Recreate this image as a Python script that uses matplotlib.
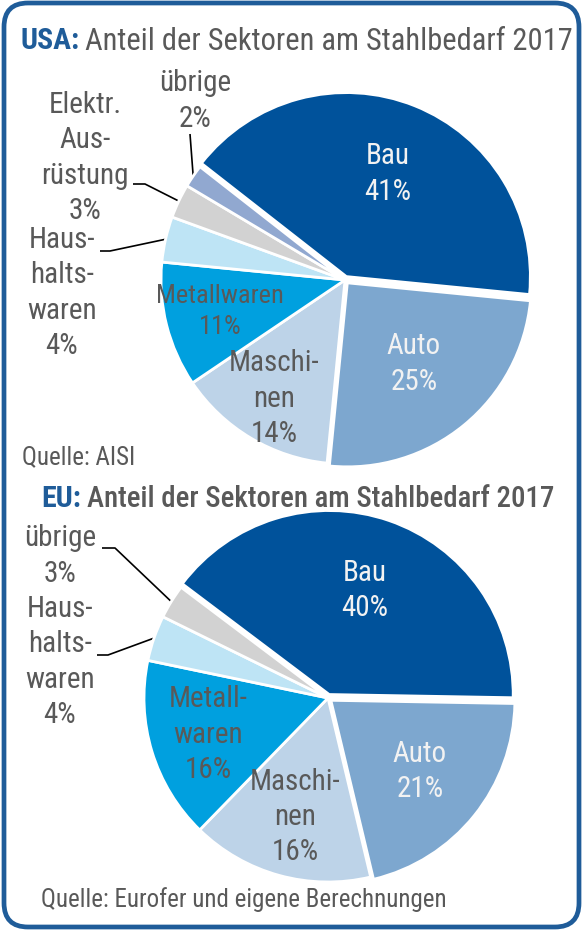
import matplotlib
matplotlib.use('Agg')
import matplotlib.pyplot as plt
from matplotlib.patches import FancyBboxPatch
import numpy as np

# Daten: Anteil der Sektoren am Stahlbedarf 2017
usa_sectors = ['Bau', 'Auto', 'Maschinen', 'Metallwaren', 'Haushaltswaren', 'Elektr. Ausrüstung', 'übrige']
usa_share = [41, 25, 14, 11, 4, 3, 2]
usa_labels = ['Bau\n41%', 'Auto\n25%', 'Maschi-\nnen\n14%', 'Metallwaren\n11%',
              'Haus-\nhalts-\nwaren\n4%', 'Elektr.\nAus-\nrüstung\n3%', 'übrige\n2%']

eu_sectors = ['Bau', 'Auto', 'Maschinen', 'Metallwaren', 'Haushaltswaren', 'übrige']
eu_share = [40, 21, 16, 16, 4, 3]
eu_labels = ['Bau\n40%', 'Auto\n21%', 'Maschi-\nnen\n16%', 'Metall-\nwaren\n16%',
             'Haus-\nhalts-\nwaren\n4%', 'übrige\n3%']

colors = {'Bau': '#00529B', 'Auto': '#7DA7CF', 'Maschinen': '#BDD3E8', 'Metallwaren': '#00A0DF',
          'Haushaltswaren': '#BEE4F5', 'Elektr. Ausrüstung': '#D2D2D2', 'übrige': '#91A8D0'}
eu_colors = {**colors, 'übrige': '#D2D2D2'}

BLUE = '#1F5C99'
GREY = '#595959'

plt.rcParams['font.family'] = ['Roboto Condensed', 'DejaVu Sans']

W, H = 583, 930
R = 184  # Radius der Torten in px
LS = 1.33
fig = plt.figure(figsize=(W / 100, H / 100), dpi=100)

# Hintergrund-Achse in Pixeln
bg = fig.add_axes([0, 0, 1, 1])
bg.set_xlim(0, W)
bg.set_ylim(H, 0)
bg.axis('off')
bg.add_patch(FancyBboxPatch((4, 3), W - 8, H - 6, boxstyle='round,pad=0,rounding_size=24',
                            fill=False, edgecolor=BLUE, linewidth=3.4))


def pie_axes(cx, cy):
    span = 1.3 * R
    ax = fig.add_axes([(cx - span) / W, 1 - (cy + span) / H, 2 * span / W, 2 * span / H])
    ax.axis('off')
    return ax


def to_bg(ax, x, y):
    disp = ax.transData.transform((x, y))
    return bg.transData.inverted().transform(disp)


def draw_pie(ax, share, cols, start, explode):
    wedges, _ = ax.pie(share, colors=cols, startangle=start, counterclock=False, explode=explode,
                       radius=1, wedgeprops=dict(edgecolor='white', linewidth=2))
    ax.set_xlim(-1.3, 1.3)
    ax.set_ylim(-1.3, 1.3)
    return wedges


def title(x, y, country, rest, size=21.5, bold_rest=False):
    t = bg.text(x, y, country, color=BLUE, fontsize=21.5, fontweight='bold', va='center', ha='left')
    r = fig.canvas.get_renderer()
    bb = t.get_window_extent(r)
    x1 = bg.transData.inverted().transform((bb.x1, bb.y0))[0]
    bg.text(x1 + 6, y, rest, color=GREY, fontsize=size, va='center', ha='left',
            fontweight='medium' if bold_rest else 'normal')


def inner_labels(ax, wedges, labels, radii, text_cols, sizes):
    for w, lab, rr, c, fs in zip(wedges, labels, radii, text_cols, sizes):
        if rr is None:
            continue
        mid = np.deg2rad((w.theta1 + w.theta2) / 2)
        cx, cy = w.center
        ax.text(cx + rr * np.cos(mid), cy + rr * np.sin(mid), lab, ha='center', va='center',
                color=c, fontsize=fs, linespacing=LS)


def outer_label(ax, wedge, text, tx, ty, path):
    bg.text(tx, ty, text, ha='center', va='center', color=GREY, fontsize=21, linespacing=LS)
    mid = np.deg2rad((wedge.theta1 + wedge.theta2) / 2)
    px, py = to_bg(ax, np.cos(mid), np.sin(mid))
    xs = [p[0] for p in path] + [px]
    ys = [p[1] for p in path] + [py]
    bg.plot(xs, ys, color='black', linewidth=1.2, solid_capstyle='butt')


# USA
ax1 = pie_axes(345, 280)
usa_cols = [colors[s] for s in usa_sectors]
w1 = draw_pie(ax1, usa_share, usa_cols, 142, [0.02, 0.02, 0, 0, 0, 0, 0])
inner_labels(ax1, w1, usa_labels, [0.60, 0.57, 0.75, 0.70, None, None, None],
             ['#F2F2F2', '#F2F2F2', GREY, GREY, None, None, None],
             [21, 21, 21, 19, None, None, None])
outer_label(ax1, w1[6], usa_labels[6], 195, 101, [(190, 134)])
outer_label(ax1, w1[5], usa_labels[5], 85, 158, [(133, 184), (145, 184)])
outer_label(ax1, w1[4], usa_labels[4], 62, 293, [(100, 251), (110, 251)])
title(20, 41, 'USA:', 'Anteil der Sektoren am Stahlbedarf 2017', size=22)
bg.text(22, 457, 'Quelle: AISI', color=GREY, fontsize=18, va='center', ha='left')

# EU
ax2 = pie_axes(328, 698)
eu_cols = [eu_colors[s] for s in eu_sectors]
w2 = draw_pie(ax2, eu_share, eu_cols, 143, [0.02, 0.02, 0, 0, 0, 0])
inner_labels(ax2, w2, eu_labels, [0.60, 0.62, 0.67, 0.68, None, None],
             ['#F2F2F2', '#F2F2F2', GREY, GREY, None, None],
             [21, 21, 21, 21, None, None])
outer_label(ax2, w2[5], eu_labels[5], 60, 556, [(102, 548), (115, 548)])
outer_label(ax2, w2[4], eu_labels[4], 60, 662, [(97, 655), (108, 655)])
title(41, 499, 'EU:', 'Anteil der Sektoren am Stahlbedarf 2017', size=20.8, bold_rest=True)
bg.text(41, 900, 'Quelle: Eurofer und eigene Berechnungen', color=GREY, fontsize=18,
        va='center', ha='left')

fig.savefig('out.png', dpi=100)
